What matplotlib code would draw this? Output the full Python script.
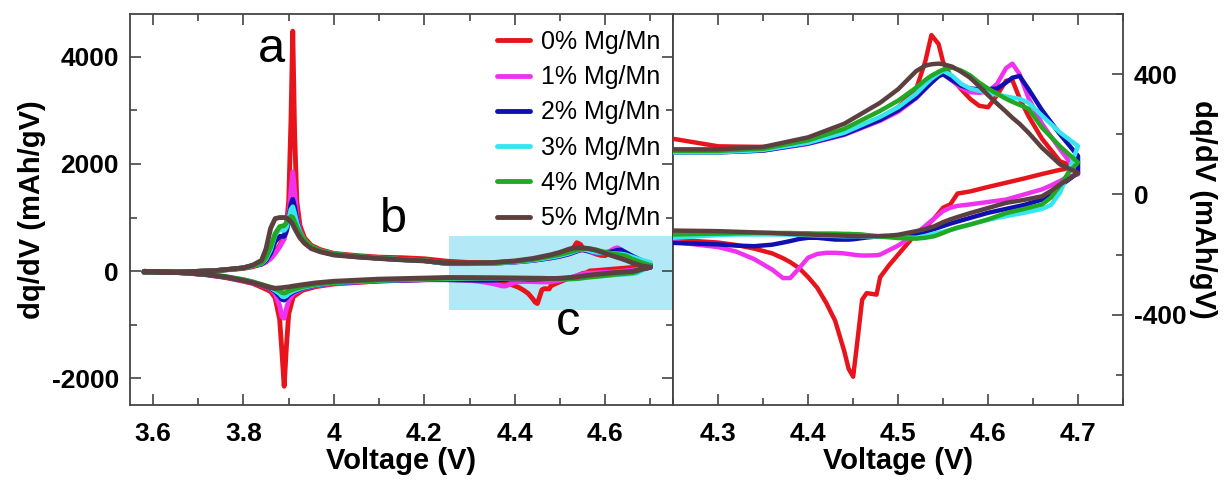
import matplotlib
matplotlib.use("Agg")
import matplotlib.pyplot as plt
from matplotlib.ticker import MultipleLocator, FormatStrFormatter
from matplotlib.patches import Rectangle

plt.rcParams['font.family'] = ['Liberation Sans', 'DejaVu Sans']
plt.rcParams['axes.unicode_minus'] = False

labels = ['0% Mg/Mn', '1% Mg/Mn', '2% Mg/Mn', '3% Mg/Mn', '4% Mg/Mn', '5% Mg/Mn']
colors = ['#e8141c', '#f032f0', '#1010b0', '#35e6f0', '#22a822', '#5c4040']

# charge branch voltages (V)
v_charge = [3.58, 3.62, 3.66, 3.70, 3.74, 3.78, 3.80, 3.82, 3.84, 3.85,
            3.86, 3.87, 3.88, 3.89, 3.895, 3.90, 3.905, 3.909, 3.913, 3.918,
            3.925, 3.935, 3.95, 3.97, 4.00, 4.05, 4.10, 4.15, 4.20, 4.25,
            4.30, 4.35, 4.40, 4.44, 4.48, 4.50, 4.52, 4.53, 4.537, 4.545,
            4.55, 4.56, 4.57, 4.58, 4.59, 4.60, 4.61, 4.62, 4.627, 4.635,
            4.645, 4.66, 4.68, 4.70]

# dq/dV on charge (mAh/gV)
dq_charge_0 = [-20, -20, -15, -5, 10, 35, 50, 80, 130, 170,
               250, 350, 480, 650, 850, 1300, 2800, 4480, 2600, 1300,
               850, 620, 480, 400, 330, 290, 260, 250, 230, 185,
               160, 158, 175, 205, 255, 290, 350, 440, 530, 500,
               440, 385, 350, 318, 295, 290, 330, 378, 380, 320,
               260, 185, 110, 89]
dq_charge_1 = [-20, -20, -15, -5, 10, 40, 60, 100, 130, 180,
               230, 330, 450, 600, 750, 1000, 1500, 1850, 1500, 1000,
               750, 560, 450, 380, 320, 270, 240, 215, 195, 140,
               140, 146, 168, 198, 245, 275, 320, 350, 372, 394,
               400, 378, 355, 340, 338, 342, 368, 420, 435, 400,
               320, 235, 150, 72]
dq_charge_2 = [-20, -20, -15, -5, 10, 40, 60, 100, 130, 200,
               330, 550, 650, 650, 750, 950, 1250, 1340, 1200, 950,
               720, 560, 440, 370, 310, 270, 240, 215, 195, 140,
               140, 146, 170, 200, 248, 280, 322, 352, 372, 393,
               400, 380, 362, 352, 350, 350, 352, 372, 388, 394,
               350, 280, 200, 128]
dq_charge_3 = [-20, -20, -15, -5, 10, 40, 60, 100, 140, 230,
               400, 680, 780, 760, 820, 960, 1150, 1200, 1080, 900,
               720, 570, 450, 370, 310, 270, 240, 215, 195, 140,
               140, 148, 172, 205, 258, 290, 335, 365, 385, 402,
               411, 395, 368, 352, 345, 339, 332, 326, 322, 318,
               305, 262, 206, 161]
dq_charge_4 = [-20, -20, -15, -5, 10, 40, 60, 100, 150, 260,
               450, 700, 830, 850, 900, 980, 1020, 1000, 920, 820,
               700, 580, 460, 380, 320, 275, 245, 218, 198, 145,
               145, 152, 180, 218, 278, 312, 355, 380, 395, 408,
               415, 422, 412, 396, 372, 352, 335, 318, 308, 298,
               285, 222, 160, 106]
dq_charge_5 = [-20, -20, -15, -5, 10, 45, 60, 110, 200, 420,
               800, 980, 1000, 1000, 990, 960, 920, 870, 800, 720,
               620, 520, 420, 360, 300, 265, 235, 210, 190, 150,
               150, 158, 190, 235, 305, 350, 410, 428, 433, 435,
               433, 425, 408, 388, 360, 330, 302, 275, 255, 235,
               205, 155, 100, 72]

# discharge branch voltages (V)
v_discharge = [4.70, 4.69, 4.68, 4.67, 4.66, 4.64, 4.62, 4.60, 4.58, 4.566,
               4.558, 4.55, 4.54, 4.53, 4.52, 4.50, 4.49, 4.48, 4.476, 4.465,
               4.46, 4.455, 4.45, 4.445, 4.44, 4.43, 4.42, 4.41, 4.40, 4.39,
               4.38, 4.372, 4.36, 4.34, 4.32, 4.30, 4.25, 4.20, 4.10, 4.00,
               3.96, 3.93, 3.91, 3.90, 3.895, 3.89, 3.885, 3.88, 3.87, 3.86,
               3.84, 3.82, 3.80, 3.76, 3.72, 3.68, 3.64, 3.60, 3.58]

dq_discharge_0 = [89, 87, 82, 75, 68, 53, 39, 25, 10, 3,
                  -33, -44, -80, -110, -130, -200, -235, -275, -333, -328,
                  -350, -480, -606, -580, -520, -420, -360, -310, -275, -245,
                  -225, -212, -196, -180, -168, -160, -150, -160, -185, -240,
                  -290, -360, -480, -800, -1400, -2150, -1500, -900, -500, -380,
                  -300, -230, -190, -120, -70, -40, -20, -10, -5]
dq_discharge_1 = [67, 60, 45, 30, 17, 0, -17, -25, -33, -38,
                  -44, -55, -80, -105, -130, -170, -185, -200, -202, -203,
                  -203, -202, -200, -198, -196, -194, -194, -198, -210, -245,
                  -278, -278, -250, -215, -190, -175, -158, -160, -185, -230,
                  -270, -330, -420, -550, -700, -880, -850, -650, -420, -330,
                  -270, -220, -180, -115, -70, -40, -20, -10, -5]
dq_discharge_2 = [72, 50, 28, 5, -17, -35, -48, -61, -78, -90,
                  -97, -105, -115, -125, -133, -137, -138, -139, -140, -143,
                  -145, -147, -149, -150, -150, -150, -147, -144, -144, -148,
                  -155, -160, -167, -172, -170, -166, -161, -160, -180, -220,
                  -260, -320, -390, -450, -500, -540, -530, -470, -380, -320,
                  -260, -210, -170, -110, -65, -38, -20, -10, -5]
dq_discharge_3 = [161, 80, 6, -35, -48, -61, -72, -84, -100, -112,
                  -118, -124, -130, -138, -144, -143, -142, -141, -141, -140,
                  -140, -139, -139, -139, -139, -138, -137, -136, -135, -134,
                  -134, -133, -133, -133, -133, -135, -144, -150, -175, -215,
                  -255, -310, -370, -420, -460, -480, -470, -420, -360, -310,
                  -255, -205, -165, -105, -60, -35, -18, -8, -5]
dq_discharge_4 = [106, 75, 30, -10, -33, -48, -62, -83, -100, -110,
                  -118, -128, -139, -144, -147, -145, -142, -140, -138, -135,
                  -133, -132, -132, -131, -131, -130, -130, -130, -129, -129,
                  -128, -128, -128, -128, -129, -130, -133, -145, -170, -210,
                  -245, -290, -340, -370, -395, -410, -400, -370, -330, -300,
                  -250, -200, -160, -100, -60, -35, -18, -8, -5]
dq_discharge_5 = [72, 52, 33, 12, -6, -18, -28, -45, -62, -75,
                  -83, -92, -106, -115, -122, -134, -137, -138, -139, -139,
                  -139, -139, -138, -138, -137, -136, -135, -134, -133, -132,
                  -131, -130, -128, -126, -124, -122, -120, -130, -150, -190,
                  -220, -255, -280, -295, -300, -305, -310, -315, -320, -310,
                  -260, -215, -175, -110, -65, -38, -20, -10, -5]

charges = [dq_charge_0, dq_charge_1, dq_charge_2, dq_charge_3, dq_charge_4, dq_charge_5]
discharges = [dq_discharge_0, dq_discharge_1, dq_discharge_2, dq_discharge_3, dq_discharge_4, dq_discharge_5]

W, H = 1228, 480
fig = plt.figure(figsize=(W / 100, H / 100), dpi=100)
ax1 = fig.add_axes([130 / W, 75 / H, 543 / W, 391 / H])
ax2 = fig.add_axes([673 / W, 75 / H, 450 / W, 391 / H])

spine_col = '#444444'

# full cycle on the left, zoomed high-voltage region on the right
for ax, lw in ((ax1, 3.5), (ax2, 3.2)):
    for i in range(len(labels)):
        v = v_charge + v_discharge
        dq = charges[i] + discharges[i]
        ax.plot(v, dq, color=colors[i], lw=lw, label=labels[i],
                solid_joinstyle='round', solid_capstyle='round', zorder=3 + i)
    for s in ax.spines.values():
        s.set_color(spine_col)
        s.set_linewidth(1.3)

# highlighted region that the right panel zooms into
ax1.add_patch(Rectangle((4.255, -730), 0.6, 1380, facecolor='#b3e9f7',
                        edgecolor='none', zorder=1))

ax1.set_xlim(3.549, 4.75)
ax1.set_ylim(-2500, 4800)
ax1.xaxis.set_major_locator(MultipleLocator(0.2))
ax1.xaxis.set_minor_locator(MultipleLocator(0.1))
ax1.xaxis.set_major_formatter(FormatStrFormatter('%g'))
ax1.yaxis.set_major_locator(MultipleLocator(2000))
ax1.yaxis.set_minor_locator(MultipleLocator(1000))
ax1.tick_params(which='both', direction='in', top=True, right=True,
                color=spine_col, width=1.2)
ax1.tick_params(which='major', length=8)
ax1.tick_params(which='minor', length=5)
ax1.tick_params(axis='x', which='major', pad=12, labelsize=19)
ax1.tick_params(axis='y', which='major', pad=8, labelsize=19)

ax2.set_xlim(4.2497, 4.75)
ax2.set_ylim(-700, 600)
ax2.xaxis.set_major_locator(MultipleLocator(0.1))
ax2.xaxis.set_minor_locator(MultipleLocator(0.05))
ax2.xaxis.set_major_formatter(FormatStrFormatter('%g'))
ax2.yaxis.set_major_locator(MultipleLocator(400))
ax2.yaxis.set_minor_locator(MultipleLocator(200))
ax2.yaxis.tick_right()
ax2.yaxis.set_label_position('right')
ax2.tick_params(which='both', direction='in', top=True, left=False, right=True,
                color=spine_col, width=1.2)
ax2.tick_params(which='major', length=8)
ax2.tick_params(which='minor', length=5)
ax2.tick_params(axis='x', which='major', pad=12, labelsize=19)
ax2.tick_params(axis='y', which='major', pad=8, labelsize=19)

for ax in (ax1, ax2):
    for lab in ax.get_xticklabels() + ax.get_yticklabels():
        lab.set_fontweight('bold')
    ax.set_xlabel('Voltage (V)', fontsize=21, fontweight='bold', labelpad=1)

ax1.set_ylabel('dq/dV (mAh/gV)', fontsize=21, fontweight='bold', labelpad=4)
ax2.set_ylabel('dq/dV (mAh/gV)', fontsize=21, fontweight='bold',
               rotation=270, labelpad=22)

ax1.text(3.861, 4138, 'a', fontsize=35, ha='center', va='center', zorder=10)
ax1.text(4.131, 969, 'b', fontsize=35, ha='center', va='center', zorder=10)
ax1.text(4.518, -960, 'c', fontsize=35, ha='center', va='center', zorder=10)

ax1.legend(loc='upper left', bbox_to_anchor=(497 / W, 1 - 30 / H),
           bbox_transform=fig.transFigure, frameon=False, fontsize=18,
           handlelength=1.3, handletextpad=0.45, labelspacing=0.45,
           borderpad=0, borderaxespad=0)

fig.savefig('out.png', dpi=100)
